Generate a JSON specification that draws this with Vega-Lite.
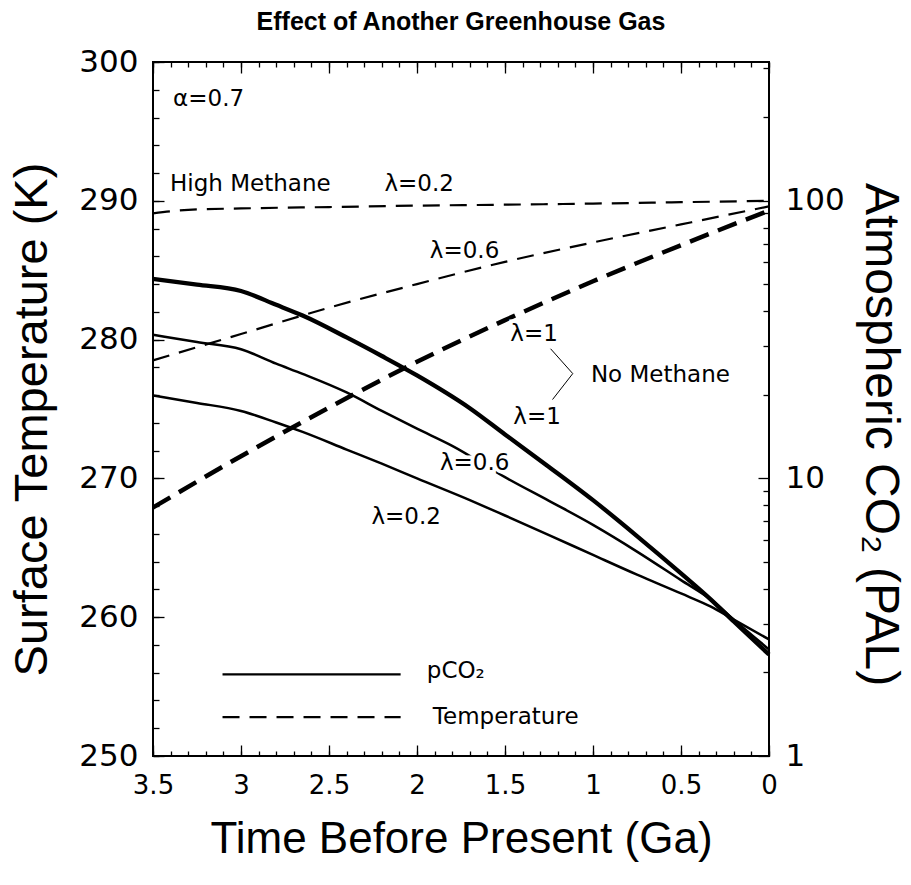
{
  "$schema": "https://vega.github.io/schema/vega-lite/v6.json",
  "autosize": {"type": "none"},
  "width": 616,
  "height": 694,
  "padding": {"left": 153, "top": 62, "right": 142, "bottom": 129},
  "background": "white",
  "title": {"text": "Effect of Another Greenhouse Gas", "font": "Liberation Sans", "fontSize": 25, "fontWeight": "bold", "color": "black", "anchor": "middle", "baseline": "alphabetic", "offset": -9},
  "config": {
    "font": "Liberation Sans",
    "view": {"stroke": "black", "strokeWidth": 2},
    "axis": {"domain": false, "grid": false, "tickColor": "black", "tickWidth": 1.3, "labelColor": "black", "titleColor": "black", "labelFlush": false, "labelOverlap": false, "titleFontWeight": "normal", "labelFont": "DejaVu Sans", "titleFont": "Liberation Sans"}
  },
  "datasets": {
    "temp": [
      {"lam": "0.2", "t": 3.5, "T": 289.1}, {"lam": "0.2", "t": 3.3, "T": 289.35}, {"lam": "0.2", "t": 3.0, "T": 289.45}, {"lam": "0.2", "t": 2.5, "T": 289.55}, {"lam": "0.2", "t": 2.0, "T": 289.65}, {"lam": "0.2", "t": 1.5, "T": 289.72}, {"lam": "0.2", "t": 1.0, "T": 289.8}, {"lam": "0.2", "t": 0.5, "T": 289.9}, {"lam": "0.2", "t": 0, "T": 290.0},
      {"lam": "0.6", "t": 3.5, "T": 278.5}, {"lam": "0.6", "t": 3.0, "T": 280.4}, {"lam": "0.6", "t": 2.5, "T": 282.3}, {"lam": "0.6", "t": 2.0, "T": 284.0}, {"lam": "0.6", "t": 1.5, "T": 285.6}, {"lam": "0.6", "t": 1.0, "T": 287.0}, {"lam": "0.6", "t": 0.5, "T": 288.3}, {"lam": "0.6", "t": 0, "T": 289.6},
      {"lam": "1", "t": 3.5, "T": 267.9}, {"lam": "1", "t": 3.0, "T": 271.6}, {"lam": "1", "t": 2.5, "T": 275.1}, {"lam": "1", "t": 2.0, "T": 278.4}, {"lam": "1", "t": 1.5, "T": 281.4}, {"lam": "1", "t": 1.0, "T": 284.2}, {"lam": "1", "t": 0.5, "T": 286.8}, {"lam": "1", "t": 0, "T": 289.3}
    ],
    "pco2": [
      {"lam": "1", "t": 3.5, "pal": 52.3}, {"lam": "1", "t": 3.25, "pal": 49.9}, {"lam": "1", "t": 3.0, "pal": 47.3}, {"lam": "1", "t": 2.8, "pal": 42.2}, {"lam": "1", "t": 2.65, "pal": 38.6}, {"lam": "1", "t": 2.4, "pal": 32.2}, {"lam": "1", "t": 2.2, "pal": 27.6}, {"lam": "1", "t": 2.0, "pal": 23.5}, {"lam": "1", "t": 1.7, "pal": 17.9}, {"lam": "1", "t": 1.5, "pal": 14.4}, {"lam": "1", "t": 1.25, "pal": 11.0}, {"lam": "1", "t": 1.0, "pal": 8.35}, {"lam": "1", "t": 0.75, "pal": 6.2}, {"lam": "1", "t": 0.5, "pal": 4.55}, {"lam": "1", "t": 0.33, "pal": 3.66}, {"lam": "1", "t": 0.2, "pal": 3.05}, {"lam": "1", "t": 0, "pal": 2.32},
      {"lam": "0.6", "t": 3.5, "pal": 32.9}, {"lam": "0.6", "t": 3.25, "pal": 31.0}, {"lam": "0.6", "t": 3.0, "pal": 29.2}, {"lam": "0.6", "t": 2.8, "pal": 25.9}, {"lam": "0.6", "t": 2.65, "pal": 23.8}, {"lam": "0.6", "t": 2.4, "pal": 20.4}, {"lam": "0.6", "t": 2.2, "pal": 17.5}, {"lam": "0.6", "t": 2.0, "pal": 15.1}, {"lam": "0.6", "t": 1.8, "pal": 13.1}, {"lam": "0.6", "t": 1.5, "pal": 10.1}, {"lam": "0.6", "t": 1.25, "pal": 8.3}, {"lam": "0.6", "t": 1.0, "pal": 6.8}, {"lam": "0.6", "t": 0.75, "pal": 5.45}, {"lam": "0.6", "t": 0.5, "pal": 4.3}, {"lam": "0.6", "t": 0.33, "pal": 3.66}, {"lam": "0.6", "t": 0.2, "pal": 3.1}, {"lam": "0.6", "t": 0, "pal": 2.42},
      {"lam": "0.2", "t": 3.5, "pal": 19.9}, {"lam": "0.2", "t": 3.25, "pal": 18.7}, {"lam": "0.2", "t": 3.0, "pal": 17.5}, {"lam": "0.2", "t": 2.8, "pal": 15.9}, {"lam": "0.2", "t": 2.65, "pal": 14.7}, {"lam": "0.2", "t": 2.4, "pal": 12.7}, {"lam": "0.2", "t": 2.2, "pal": 11.3}, {"lam": "0.2", "t": 2.0, "pal": 10.0}, {"lam": "0.2", "t": 1.7, "pal": 8.35}, {"lam": "0.2", "t": 1.5, "pal": 7.35}, {"lam": "0.2", "t": 1.25, "pal": 6.25}, {"lam": "0.2", "t": 1.0, "pal": 5.3}, {"lam": "0.2", "t": 0.75, "pal": 4.5}, {"lam": "0.2", "t": 0.5, "pal": 3.85}, {"lam": "0.2", "t": 0.33, "pal": 3.45}, {"lam": "0.2", "t": 0.2, "pal": 3.1}, {"lam": "0.2", "t": 0, "pal": 2.63}
    ],
    "notes": [
      {"t": 3.386, "T": 297.3, "label": "α=0.7"},
      {"t": 3.403, "T": 291.18, "label": "High Methane"},
      {"t": 2.185, "T": 291.18, "label": "λ=0.2"},
      {"t": 1.927, "T": 286.37, "label": "λ=0.6"},
      {"t": 1.47, "T": 280.42, "label": "λ=1"},
      {"t": 1.012, "T": 277.47, "label": "No Methane"},
      {"t": 1.453, "T": 274.39, "label": "λ=1"},
      {"t": 1.87, "T": 271.09, "label": "λ=0.6"},
      {"t": 2.259, "T": 267.22, "label": "λ=0.2"},
      {"t": 1.944, "T": 256.1, "label": "pCO₂"},
      {"t": 1.91, "T": 252.8, "label": "Temperature"}
    ],
    "legendCO2": [{"t": 3.105, "pal": 1.968}, {"t": 2.093, "pal": 1.968}],
    "legendT": [{"t": 3.105, "T": 252.8}, {"t": 2.093, "T": 252.8}],
    "bracket": [{"k": 1, "t": 1.241, "T": 279.34}, {"k": 2, "t": 1.115, "T": 277.55}, {"k": 3, "t": 1.23, "T": 275.68}]
  },
  "resolve": {"scale": {"y": "independent"}, "axis": {"x": "independent", "y": "independent"}},
  "layer": [
    {
      "data": {"name": "temp"},
      "transform": [{"filter": "datum.lam != '1'"}],
      "mark": {"type": "line", "color": "black", "strokeDash": [17, 10], "strokeWidth": 2.2, "interpolate": "monotone"},
      "encoding": {
        "x": {"field": "t", "type": "quantitative", "scale": {"domain": [0, 3.5], "reverse": true, "nice": false, "zero": false},
              "axis": {"orient": "bottom", "values": [0, 0.5, 1, 1.5, 2, 2.5, 3, 3.5], "format": "~g", "tickSize": -11, "labelFontSize": 26, "labelPadding": 27, "title": "Time Before Present (Ga)", "titleFontSize": 44, "titlePadding": 19}},
        "y": {"field": "T", "type": "quantitative", "scale": {"domain": [250, 300], "nice": false, "zero": false},
              "axis": {"orient": "left", "values": [250, 260, 270, 280, 290, 300], "format": "d", "tickSize": -11, "labelFontSize": 31, "labelPadding": 26, "labelBaseline": "middle", "title": "Surface Temperature (K)", "titleFontSize": 47, "titlePadding": 22, "titleY": 357}},
        "detail": {"field": "lam"}
      }
    },
    {
      "data": {"name": "temp"},
      "transform": [{"filter": "datum.lam == '1'"}],
      "mark": {"type": "line", "color": "black", "strokeDash": [20, 10], "strokeWidth": 4.5, "interpolate": "monotone"},
      "encoding": {
        "x": {"field": "t", "type": "quantitative", "scale": {"domain": [0, 3.5], "reverse": true, "nice": false, "zero": false}, "axis": null},
        "y": {"field": "T", "type": "quantitative", "scale": {"domain": [250, 300], "nice": false, "zero": false}, "axis": null}
      }
    },
    {
      "data": {"name": "pco2"},
      "transform": [{"filter": "datum.lam != '1'"}],
      "mark": {"type": "line", "color": "black", "strokeWidth": 2.5, "interpolate": "monotone"},
      "encoding": {
        "x": {"field": "t", "type": "quantitative", "scale": {"domain": [0, 3.5], "reverse": true, "nice": false, "zero": false},
              "axis": {"orient": "bottom", "values": [0, 0.1, 0.2, 0.3, 0.4, 0.5, 0.6, 0.7, 0.8, 0.9, 1, 1.1, 1.2, 1.3, 1.4, 1.5, 1.6, 1.7, 1.8, 1.9, 2, 2.1, 2.2, 2.3, 2.4, 2.5, 2.6, 2.7, 2.8, 2.9, 3, 3.1, 3.2, 3.3, 3.4, 3.5], "tickSize": -5, "labels": false, "title": null}},
        "y": {"field": "pal", "type": "quantitative", "scale": {"type": "log", "domain": [1, 316.2], "nice": false},
              "axis": {"orient": "right", "values": [1, 10, 100], "format": "~g", "tickSize": -11, "labelFontSize": 31, "labelPadding": 27, "labelBaseline": "middle", "title": "Atmospheric CO₂  (PAL)", "titleFontSize": 48, "titlePadding": 11, "titleY": 372}},
        "detail": {"field": "lam"}
      }
    },
    {
      "data": {"name": "pco2"},
      "transform": [{"filter": "datum.lam == '1'"}],
      "mark": {"type": "line", "color": "black", "strokeWidth": 4.3, "interpolate": "monotone"},
      "encoding": {
        "x": {"field": "t", "type": "quantitative", "scale": {"domain": [0, 3.5], "reverse": true, "nice": false, "zero": false}, "axis": null},
        "y": {"field": "pal", "type": "quantitative", "scale": {"type": "log", "domain": [1, 316.2], "nice": false}, "axis": null}
      }
    },
    {
      "data": {"name": "notes"},
      "mark": {"type": "text", "align": "left", "baseline": "middle", "font": "DejaVu Sans", "fontSize": 23, "color": "white", "stroke": "white", "strokeWidth": 7},
      "encoding": {
        "x": {"field": "t", "type": "quantitative", "scale": {"domain": [0, 3.5], "reverse": true, "nice": false, "zero": false}, "axis": null},
        "y": {"field": "T", "type": "quantitative", "scale": {"domain": [250, 300], "nice": false, "zero": false}, "axis": null},
        "text": {"field": "label"}
      }
    },
    {
      "data": {"name": "notes"},
      "mark": {"type": "text", "align": "left", "baseline": "middle", "font": "DejaVu Sans", "fontSize": 23, "color": "black"},
      "encoding": {
        "x": {"field": "t", "type": "quantitative", "scale": {"domain": [0, 3.5], "reverse": true, "nice": false, "zero": false},
              "axis": {"orient": "top", "values": [0, 0.5, 1, 1.5, 2, 2.5, 3, 3.5], "tickSize": -11, "labels": false, "title": null}},
        "y": {"field": "T", "type": "quantitative", "scale": {"domain": [250, 300], "nice": false, "zero": false},
              "axis": {"orient": "left", "values": [250, 252, 254, 256, 258, 260, 262, 264, 266, 268, 270, 272, 274, 276, 278, 280, 282, 284, 286, 288, 290, 292, 294, 296, 298, 300], "tickSize": -6, "labels": false, "title": null}},
        "text": {"field": "label"}
      }
    },
    {
      "data": {"name": "legendCO2"},
      "mark": {"type": "line", "color": "black", "strokeWidth": 2.3},
      "encoding": {
        "x": {"field": "t", "type": "quantitative", "scale": {"domain": [0, 3.5], "reverse": true, "nice": false, "zero": false},
              "axis": {"orient": "top", "values": [0, 0.1, 0.2, 0.3, 0.4, 0.5, 0.6, 0.7, 0.8, 0.9, 1, 1.1, 1.2, 1.3, 1.4, 1.5, 1.6, 1.7, 1.8, 1.9, 2, 2.1, 2.2, 2.3, 2.4, 2.5, 2.6, 2.7, 2.8, 2.9, 3, 3.1, 3.2, 3.3, 3.4, 3.5], "tickSize": -5, "labels": false, "title": null}},
        "y": {"field": "pal", "type": "quantitative", "scale": {"type": "log", "domain": [1, 316.2], "nice": false},
              "axis": {"orient": "right", "values": [2, 3, 4, 5, 6, 7, 8, 9, 20, 30, 40, 50, 60, 70, 80, 90, 200, 300], "tickSize": -6, "labels": false, "title": null}}
      }
    },
    {
      "data": {"name": "legendT"},
      "mark": {"type": "line", "color": "black", "strokeWidth": 2.3, "strokeDash": [17, 10]},
      "encoding": {
        "x": {"field": "t", "type": "quantitative", "scale": {"domain": [0, 3.5], "reverse": true, "nice": false, "zero": false}, "axis": null},
        "y": {"field": "T", "type": "quantitative", "scale": {"domain": [250, 300], "nice": false, "zero": false}, "axis": null}
      }
    },
    {
      "data": {"name": "bracket"},
      "mark": {"type": "line", "color": "black", "strokeWidth": 1},
      "encoding": {
        "x": {"field": "t", "type": "quantitative", "scale": {"domain": [0, 3.5], "reverse": true, "nice": false, "zero": false}, "axis": null},
        "y": {"field": "T", "type": "quantitative", "scale": {"domain": [250, 300], "nice": false, "zero": false}, "axis": null},
        "order": {"field": "k"}
      }
    }
  ]
}
